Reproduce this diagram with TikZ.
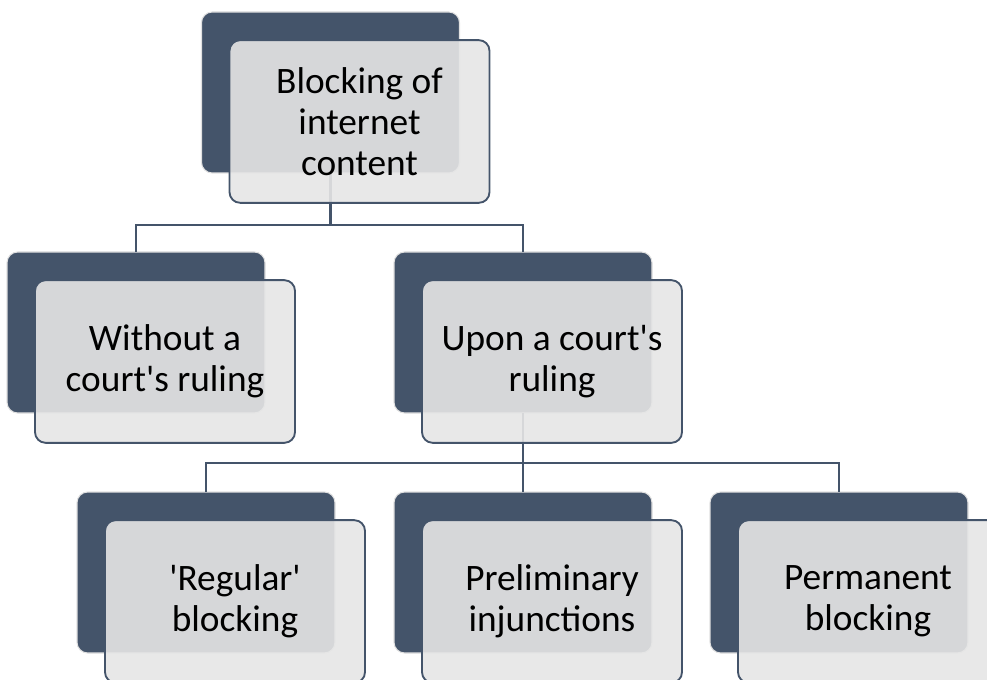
\documentclass[tikz,border=0pt]{standalone}
\usepackage{fontspec}
\setmainfont{Carlito}
\usepackage{tikz}
\usetikzlibrary{calc,positioning}
\definecolor{SlateBlue}{RGB}{68,84,106}
\definecolor{PaleGray}{RGB}{230,230,230}
\definecolor{HaloGray}{RGB}{225,225,225}

\begin{document}
\begin{tikzpicture}[x=0.75pt,y=-0.75pt,
    backcard/.style={draw=HaloGray,line width=0.8pt,fill=SlateBlue,rounded corners=8pt,
      minimum width=193.5pt,minimum height=120.75pt,inner sep=0pt,outer sep=0pt},
    frontcard/.style={draw=SlateBlue,line width=1.4pt,fill=PaleGray,fill opacity=0.9,text opacity=1,
      rounded corners=8pt,minimum width=195pt,minimum height=122pt,inner sep=0pt,outer sep=0pt,
      align=center,font=\fontsize{28}{30.75}\selectfont},
    link/.style={draw=SlateBlue,line width=1.6pt}]
  \useasboundingbox (0,0) rectangle (987,680);
  % back cards
  \node[backcard] (bTop) at (330.5,92.5) {};
  \node[backcard] (bWithout) at (136,332.5) {};
  \node[backcard] (bUpon) at (523,332.5) {};
  \node[backcard] (bRegular) at (206,572.5) {};
  \node[backcard] (bPrelim) at (523,572.5) {};
  \node[backcard] (bPerm) at (839,572.5) {};
  % connectors
  \coordinate (jTop) at (330.5,225);
  \coordinate (jUpon) at (523,463);
  \draw[link] (bTop.south) -- (jTop) -| (bWithout.north);
  \draw[link] (jTop) -| (bUpon.north);
  \draw[link] (bUpon.south) -- (jUpon) -| (bRegular.north);
  \draw[link] (jUpon) -| (bPerm.north);
  \draw[link] (jUpon) -- (bPrelim.north);
  % front cards
  \node[frontcard] (fTop) at ($(bTop)+(29,29)$) {Blocking of\\internet\\content};
  \node[frontcard] (fWithout) at ($(bWithout)+(29,29)$) {Without a\\court\textquotesingle s ruling};
  \node[frontcard] (fUpon) at ($(bUpon)+(29,29)$) {Upon a court\textquotesingle s\\ruling};
  \node[frontcard] (fRegular) at ($(bRegular)+(29,29)$) {\textquotesingle Regular\textquotesingle\\blocking};
  \node[frontcard] (fPrelim) at ($(bPrelim)+(29,29)$) {Preliminary\\injunctions};
  \node[frontcard] (fPerm) at ($(bPerm)+(29,29)$) {Permanent\\blocking};
\end{tikzpicture}
\end{document}
